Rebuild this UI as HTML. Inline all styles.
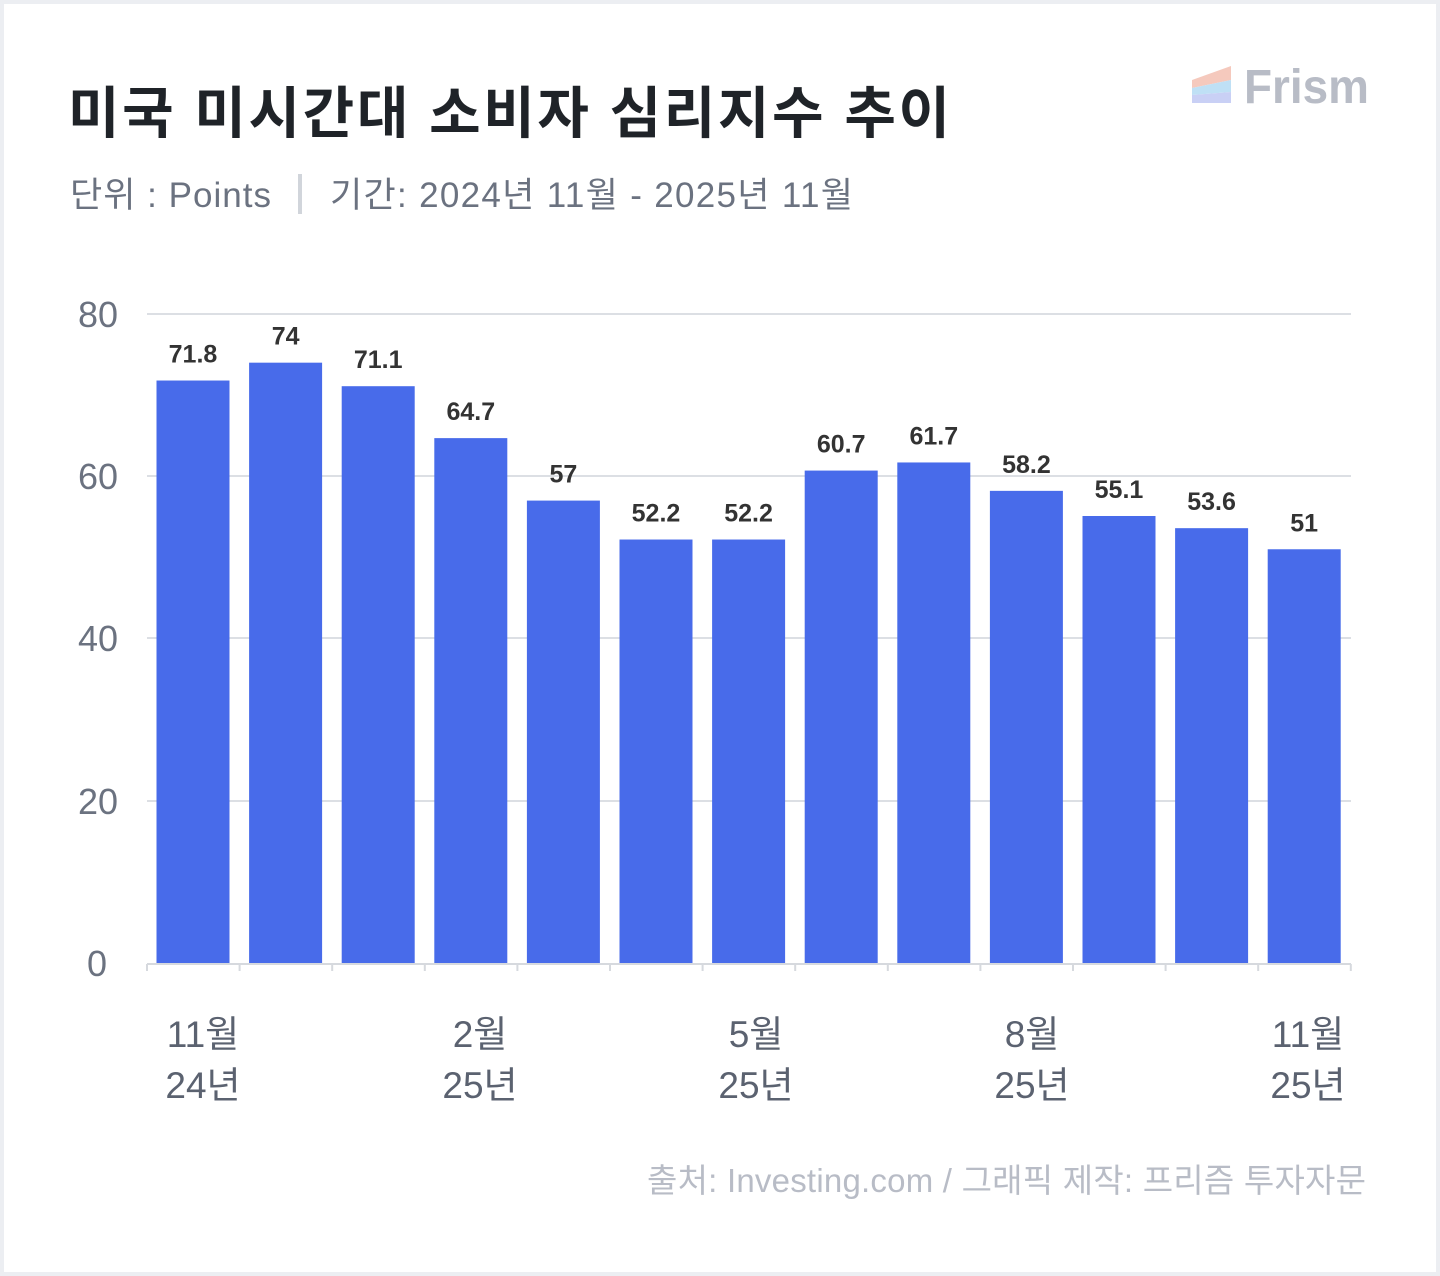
<!DOCTYPE html><html><head><meta charset="utf-8"><style>
body{margin:0;width:1440px;height:1276px;background:#eceef2;font-family:"Liberation Sans","Noto Sans CJK KR",sans-serif}
.card{position:absolute;left:4px;top:4px;width:1432px;height:1268px;background:#fff}
</style></head><body><div class="card"></div>
<svg width="1440" height="1276" style="position:absolute;left:0;top:0" font-family="Liberation Sans, Noto Sans CJK KR, sans-serif">
<text x="68" y="133" font-size="56" font-weight="bold" fill="#1f2328" textLength="882" lengthAdjust="spacing">미국 미시간대 소비자 심리지수 추이</text>
<text x="70" y="207" font-size="35" fill="#6b7280" textLength="201" lengthAdjust="spacing">단위 : Points</text>
<rect x="298" y="174" width="4" height="40" fill="#d1d5db"/>
<text x="330" y="207" font-size="35" fill="#6b7280" textLength="523" lengthAdjust="spacing">기간: 2024년 11월 - 2025년 11월</text>
<polygon points="1192,80 1231,66 1231,80 1192,88" fill="#f5c9bd"/>
<polygon points="1192,88 1231,80 1231,92 1192,95" fill="#bfe0f5"/>
<polygon points="1192,95 1231,92 1231,103 1192,103" fill="#c9d0f5"/>
<text x="1244" y="103" font-size="48" font-weight="bold" fill="#b8bcc6" textLength="125" lengthAdjust="spacingAndGlyphs">Frism</text>
<g stroke="#dcdfe4" stroke-width="2">
<line x1="147" y1="314" x2="1351" y2="314"/><line x1="147" y1="476" x2="1351" y2="476"/>
<line x1="147" y1="638" x2="1351" y2="638"/><line x1="147" y1="801" x2="1351" y2="801"/>
</g>
<g font-size="36" fill="#6b7280" text-anchor="end">
<text x="118" y="327">80</text><text x="118" y="489">60</text><text x="118" y="651">40</text><text x="118" y="814">20</text><text x="107" y="976">0</text>
</g>
<g id="bars" fill="#486bea"></g>
<g id="lbl" font-size="25" font-weight="bold" fill="#333" text-anchor="middle"></g>
<line x1="147" y1="964" x2="1351" y2="964" stroke="#d6d9de" stroke-width="2"/>
<g id="ticks" stroke="#d6d9de" stroke-width="2"></g>
<g font-size="37" fill="#5b6270" text-anchor="middle">
<text x="203" y="1047">11월</text><text x="203" y="1098">24년</text>
<text x="480" y="1047">2월</text><text x="480" y="1098">25년</text>
<text x="756" y="1047">5월</text><text x="756" y="1098">25년</text>
<text x="1032" y="1047">8월</text><text x="1032" y="1098">25년</text>
<text x="1308" y="1047">11월</text><text x="1308" y="1098">25년</text>
</g>
<text x="647" y="1192" font-size="33" fill="#b8bcc6" textLength="719" lengthAdjust="spacing">출처: Investing.com / 그래픽 제작: 프리즘 투자자문</text>
</svg>
<script>
var v=[71.8,74,71.1,64.7,57,52.2,52.2,60.7,61.7,58.2,55.1,53.6,51],b='',l='',t='';
v.forEach(function(d,i){var x=147+i*92.6+9.5,y=963-d*8.1125;
b+='<rect x="'+x+'" y="'+y+'" width="73" height="'+(963-y)+'"/>';
l+='<text x="'+(x+36.5)+'" y="'+(y-18)+'">'+d+'</text>';});
for(var i=0;i<=13;i++){var x=147+i*92.6;t+='<line x1="'+x+'" y1="964" x2="'+x+'" y2="971"/>';}
document.getElementById('bars').innerHTML=b;document.getElementById('lbl').innerHTML=l;document.getElementById('ticks').innerHTML=t;
</script>
</body></html>
